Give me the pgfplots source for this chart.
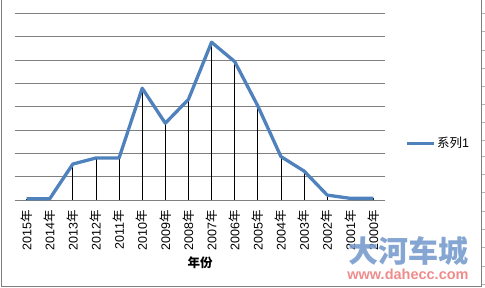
\documentclass[border=0pt]{standalone}
\usepackage{pgfplots}
\pgfplotsset{compat=1.18}
\usepackage{fontspec}
\setmainfont{Liberation Sans}
\newfontfamily\cjk{Noto Sans CJK SC}
\definecolor{serblue}{HTML}{4F81BD}
\definecolor{gridgray}{HTML}{7F7F7F}
\definecolor{wmblue}{RGB}{120,156,205}
\definecolor{wmred}{RGB}{236,128,128}
\begin{document}
\begin{tikzpicture}[x=1pt,y=1pt]
\useasboundingbox (0,0) rectangle (485,288);
% outer frame
\draw[gridgray, line width=1pt] (1.5,288) -- (1.5,1.5) -- (481.5,1.5) -- (481.5,288);
\foreach \yy in {13.3,31.7,50,68.3,86,104,122,140.7,156,174.3,192.7,211,229,247.7,266,284}{
  \draw[gridgray!60, line width=0.6pt] (481.5,288-\yy) -- (485,288-\yy);
}
\begin{axis}[
  at={(15pt,88pt)}, anchor=south west,
  scale only axis, width=370pt, height=186.7pt,
  xmin=-0.5, xmax=15.5, ymin=0, ymax=8,
  xtick={0,...,15},
  xticklabels={2015{\cjk 年},2014{\cjk 年},2013{\cjk 年},2012{\cjk 年},2011{\cjk 年},2010{\cjk 年},2009{\cjk 年},2008{\cjk 年},2007{\cjk 年},2006{\cjk 年},2005{\cjk 年},2004{\cjk 年},2003{\cjk 年},2002{\cjk 年},2001{\cjk 年},2000{\cjk 年}},
  xticklabel style={rotate=90, anchor=east, font=\fontsize{12.5}{13}\selectfont, inner sep=0pt, xshift=-10pt},
  ytick={0,...,8}, yticklabels={},
  major tick length=0pt,
  ymajorgrids, grid style={gridgray, line width=0.9pt},
  axis line style={draw=none},
  xlabel={\cjk\bfseries 年份},
  xlabel style={at={(axis description cs:0.5,-0.3375)}, anchor=center, font=\fontsize{12.5}{13}\selectfont},
  legend style={at={(1.054,0.305)}, anchor=west, draw=none, fill=none, font=\fontsize{12.5}{13}\selectfont, inner sep=0pt, row sep=0pt},
  legend cell align=left,
  legend image code/.code={\draw[serblue, line width=3pt] (0pt,0pt) -- (27pt,0pt);},
  clip=false,
]
\addplot[ycomb, black, line width=0.8pt, forget plot] coordinates {
(0,0.05) (1,0.05) (2,1.54) (3,1.8) (4,1.8) (5,4.79) (6,3.29) (7,4.31) (8,6.76) (9,5.93) (10,4.03) (11,1.86) (12,1.24) (13,0.21) (14,0.07) (15,0.07)};
\addplot[serblue, line width=3.3pt, line join=round, mark=none] coordinates {
(0,0.05) (1,0.05) (2,1.54) (3,1.8) (4,1.8) (5,4.79) (6,3.29) (7,4.31) (8,6.76) (9,5.93) (10,4.03) (11,1.86) (12,1.24) (13,0.21) (14,0.07) (15,0.07)};
\addlegendentry{{\cjk 系列}1}
\end{axis}
% watermark
\node[text=wmblue, font=\cjk\bfseries\fontsize{30}{30}\selectfont, opacity=0.9] at (408,288-251) {大河车城};
\node[text=wmred, font=\bfseries\fontsize{14.5}{15}\selectfont, opacity=0.9] at (408,288-274.5) {www.dahecc.com};
\end{tikzpicture}
\end{document}
